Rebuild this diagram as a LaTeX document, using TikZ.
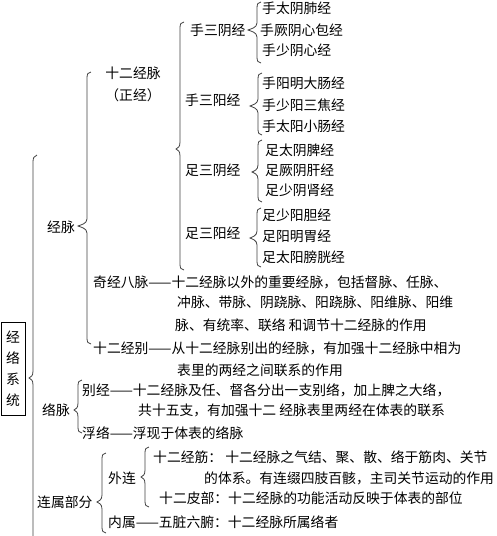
\documentclass[tikz,border=0pt]{standalone}
\usepackage{fontspec}
\setmainfont{Noto Sans CJK SC}
\newcommand\brc[5]{%
\draw[brcline] (#1+4,#2) .. controls (#1+1,#2) and (#1,#2+2) .. (#1,#2+6) -- (#1,#5-7) .. controls (#1,#5-2) and (#4+2,#5-1) .. (#4,#5) .. controls (#4+2,#5+1) and (#1,#5+2) .. (#1,#5+7) -- (#1,#3-6) .. controls (#1,#3-2) and (#1+1,#3) .. (#1+4,#3);}
\begin{document}
\begin{tikzpicture}[x=1pt,y=-1pt,
  brcline/.style={draw=black!75,line width=0.8pt},
  txt/.style={anchor=west,inner sep=0pt,font=\fontsize{13.8}{16}\selectfont},
  ctxt/.style={inner sep=0pt,align=center,font=\fontsize{13.8}{22}\selectfont}]
\useasboundingbox (0,0) rectangle (496,536);
% root box
\node[draw=black,line width=0.7pt,minimum width=24pt,minimum height=93pt,inner sep=0pt,align=center,font=\fontsize{13.8}{21}\selectfont] (sys) at (13,368.5) {经\\络\\系\\统};
% twelve meridians
\node[txt] (n1) at (262,8) {手太阴肺经};
\node[txt] (n2) at (260,30) {手厥阴心包经};
\node[txt] (n3) at (262,50) {手少阴心经};
\node[txt] (n4) at (262,83) {手阳明大肠经};
\node[txt] (n5) at (262,105) {手少阳三焦经};
\node[txt] (n6) at (262,126) {手太阳小肠经};
\node[txt] (n7) at (265,150) {足太阴脾经};
\node[txt] (n8) at (265,170) {足厥阴肝经};
\node[txt] (n9) at (265,190) {足少阴肾经};
\node[txt] (n10) at (262,215) {足少阳胆经};
\node[txt] (n11) at (262,236) {足阳明胃经};
\node[txt] (n12) at (262,257) {足太阳膀胱经};
\node[txt] (g1) at (190,30) {手三阴经};
\node[txt] (g2) at (185,100) {手三阳经};
\node[txt] (g3) at (185,170) {足三阴经};
\node[txt] (g4) at (185,233) {足三阳经};
\node[ctxt] (sej) at (133,84) {十二经脉\\（正经）};
\node[txt] (jm) at (47,227) {经脉};
\node[txt] (qj1) at (93,282) {奇经八脉——十二经脉以外的重要经脉，包括督脉、任脉、};
\node[txt] (qj2) at (177,302) {冲脉、带脉、阴跷脉、阳跷脉、阳维脉、阳维};
\node[txt] (qj3) at (175,325) {脉、有统率、联络 和调节十二经脉的作用};
\node[txt] (jb1) at (93,348) {十二经别——从十二经脉别出的经脉，有加强十二经脉中相为};
\node[txt] (jb2) at (177,370) {表里的两经之间联系的作用};
\node[txt] (lm) at (42,410) {络脉};
\node[txt] (bj1) at (82,390) {别经——十二经脉及任、督各分出一支别络，加上脾之大络，};
\node[txt] (bj2) at (138,410) {共十五支，有加强十二 经脉表里两经在体表的联系};
\node[txt] (fl) at (82,433) {浮络——浮现于体表的络脉};
\node[txt] (ls) at (37,502) {连属部分};
\node[txt] (wl) at (108,478) {外连};
\node[txt] (jj1) at (153,457) {十二经筋：\ 十二经脉之气结、聚、散、络于筋肉、关节};
\node[txt] (jj2) at (204,478) {的体系。有连缀四肢百骸，主司关节运动的作用};
\node[txt] (pb) at (159,498) {十二皮部：十二经脉的功能活动反映于体表的部位};
\node[txt] (ns) at (108,522) {内属——五脏六腑：十二经脉所属络者};
% braces
\brc{257}{2}{63}{248}{30}
\brc{258}{73}{135}{250}{106}
\brc{258}{140}{202}{252}{172}
\brc{257}{208}{267}{250}{238}
\brc{180}{22}{270}{176}{149}
\brc{87}{72}{344}{78}{226}
\draw[brcline] (37,155) .. controls (34,156) and (33,158) .. (33,162) -- (33,371) .. controls (33,376) and (31,377) .. (29,378) .. controls (31,379) and (33,380) .. (33,385) -- (33,536);
\brc{78}{380}{433}{74}{410}
\brc{102}{453}{533}{97}{502}
\brc{145}{447}{507}{141}{477}
\end{tikzpicture}
\end{document}
